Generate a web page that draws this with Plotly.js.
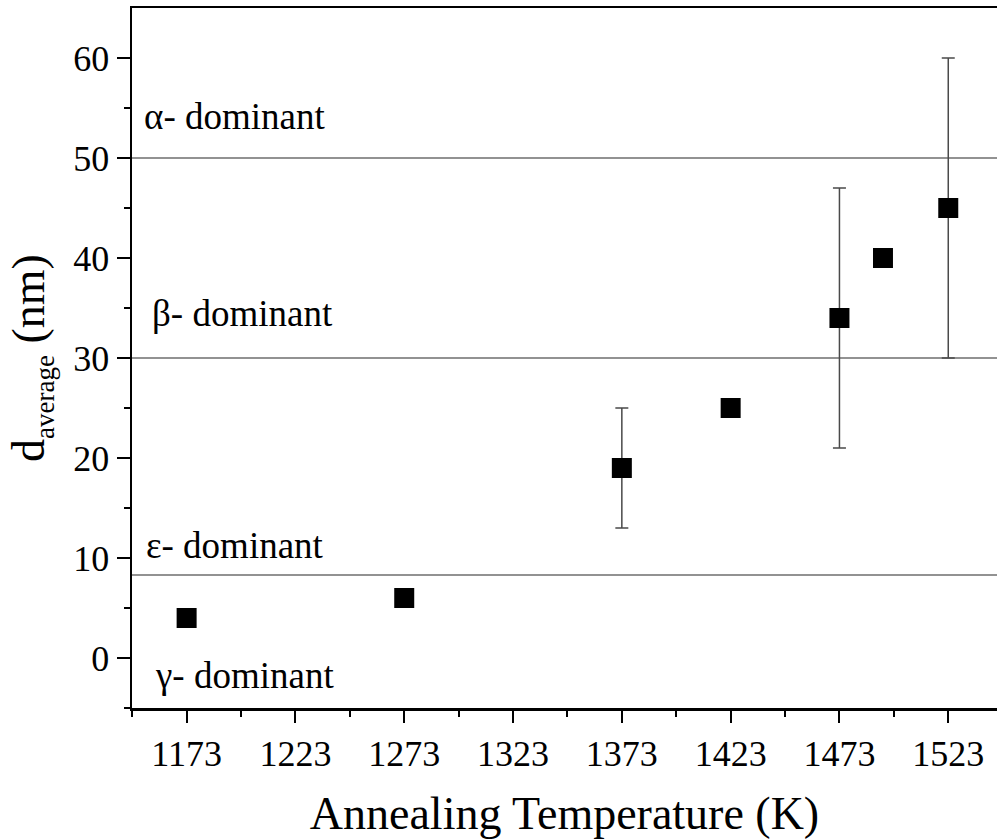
<!DOCTYPE html>
<html>
<head>
<meta charset="utf-8">
<script src="https://cdn.plot.ly/plotly-3.0.1.min.js"></script>
<style>
  html, body { margin: 0; padding: 0; background: #fff; }
  #chart { width: 997px; height: 839px; }
</style>
</head>
<body>
<div id="chart"></div>
<script>
// Annealing temperature (K) and average grain size (nm)
const temperatures = [1173, 1273, 1373, 1423, 1473, 1493, 1523];
const dAverage     = [4, 6, 19, 25, 34, 40, 45];
const dError       = [null, null, 6, null, 13, null, 15];

// Phase boundaries (nm) and phase labels
const boundaries = [50, 30, 8.3];
const phaseLabels = ['α- dominant', 'β- dominant', 'ε- dominant', 'γ- dominant'];
const labelY      = [54.2, 34.5, 11.3, -1.7];
const labelX      = [1152.5, 1156, 1153.5, 1157.5];

const xTicks = [1173, 1223, 1273, 1323, 1373, 1423, 1473, 1523];
const yTicks = [0, 10, 20, 30, 40, 50, 60];

const serif = 'Liberation Serif, Times New Roman, serif';

const trace = {
  type: 'scatter',
  mode: 'markers',
  x: temperatures,
  y: dAverage,
  marker: { symbol: 'square', size: 20, color: '#000', line: { width: 0 } },
  error_y: {
    type: 'data',
    array: dError,
    symmetric: true,
    color: '#4a4a4a',
    thickness: 1.5,
    width: 6.5
  },
  showlegend: false,
  hoverinfo: 'x+y'
};

const shapes = boundaries.map(v => ({
  type: 'line', xref: 'paper', x0: 0, x1: 1, yref: 'y', y0: v, y1: v,
  line: { color: '#6e6e6e', width: 1.3 },
  layer: 'below'
}));

const annotations = phaseLabels.map((t, i) => ({
  text: t, x: labelX[i], y: labelY[i], xref: 'x', yref: 'y',
  xanchor: 'left', yanchor: 'middle', showarrow: false,
  font: { family: serif, size: 37, color: '#000' }
}));

const layout = {
  width: 997, height: 839,
  margin: { l: 132, r: 0, t: 8, b: 131 },
  paper_bgcolor: '#fff', plot_bgcolor: '#fff',
  font: { family: serif, color: '#000' },
  xaxis: {
    range: [1147.9, 1545.4],
    tickmode: 'array', tickvals: xTicks, ticktext: xTicks.map(String),
    ticks: 'outside', ticklen: 12, tickwidth: 2, tickcolor: '#000',
    minor: { tickmode: 'array', tickvals: [1148, 1198, 1248, 1298, 1348, 1398, 1448, 1498],
             ticks: 'outside', ticklen: 6, tickwidth: 2, tickcolor: '#000' },
    showline: true, linecolor: '#000', linewidth: 2.5, mirror: true,
    showgrid: false, zeroline: false,
    tickfont: { family: serif, size: 36, color: '#000' },
    title: { text: 'Annealing Temperature (K)', font: { family: serif, size: 46, color: '#000' }, standoff: 30 },
    automargin: false
  },
  yaxis: {
    range: [-5, 65],
    tickmode: 'array', tickvals: yTicks, ticktext: yTicks.map(String),
    ticks: 'outside', ticklen: 13, tickwidth: 2, tickcolor: '#000',
    minor: { tickmode: 'array', tickvals: [-5, 5, 15, 25, 35, 45, 55],
             ticks: 'outside', ticklen: 6, tickwidth: 2, tickcolor: '#000' },
    showline: true, linecolor: '#000', linewidth: 2.5, mirror: false,
    showgrid: false, zeroline: false,
    tickfont: { family: serif, size: 36, color: '#000' },
    title: { text: 'd<sub><span style="font-size:27px">average</span></sub> (nm)',
             font: { family: serif, size: 46, color: '#000' }, standoff: 14 },
    automargin: false
  },
  shapes: shapes,
  annotations: annotations
};

Plotly.newPlot('chart', [trace], layout, { displayModeBar: false, staticPlot: true });
</script>
</body>
</html>
